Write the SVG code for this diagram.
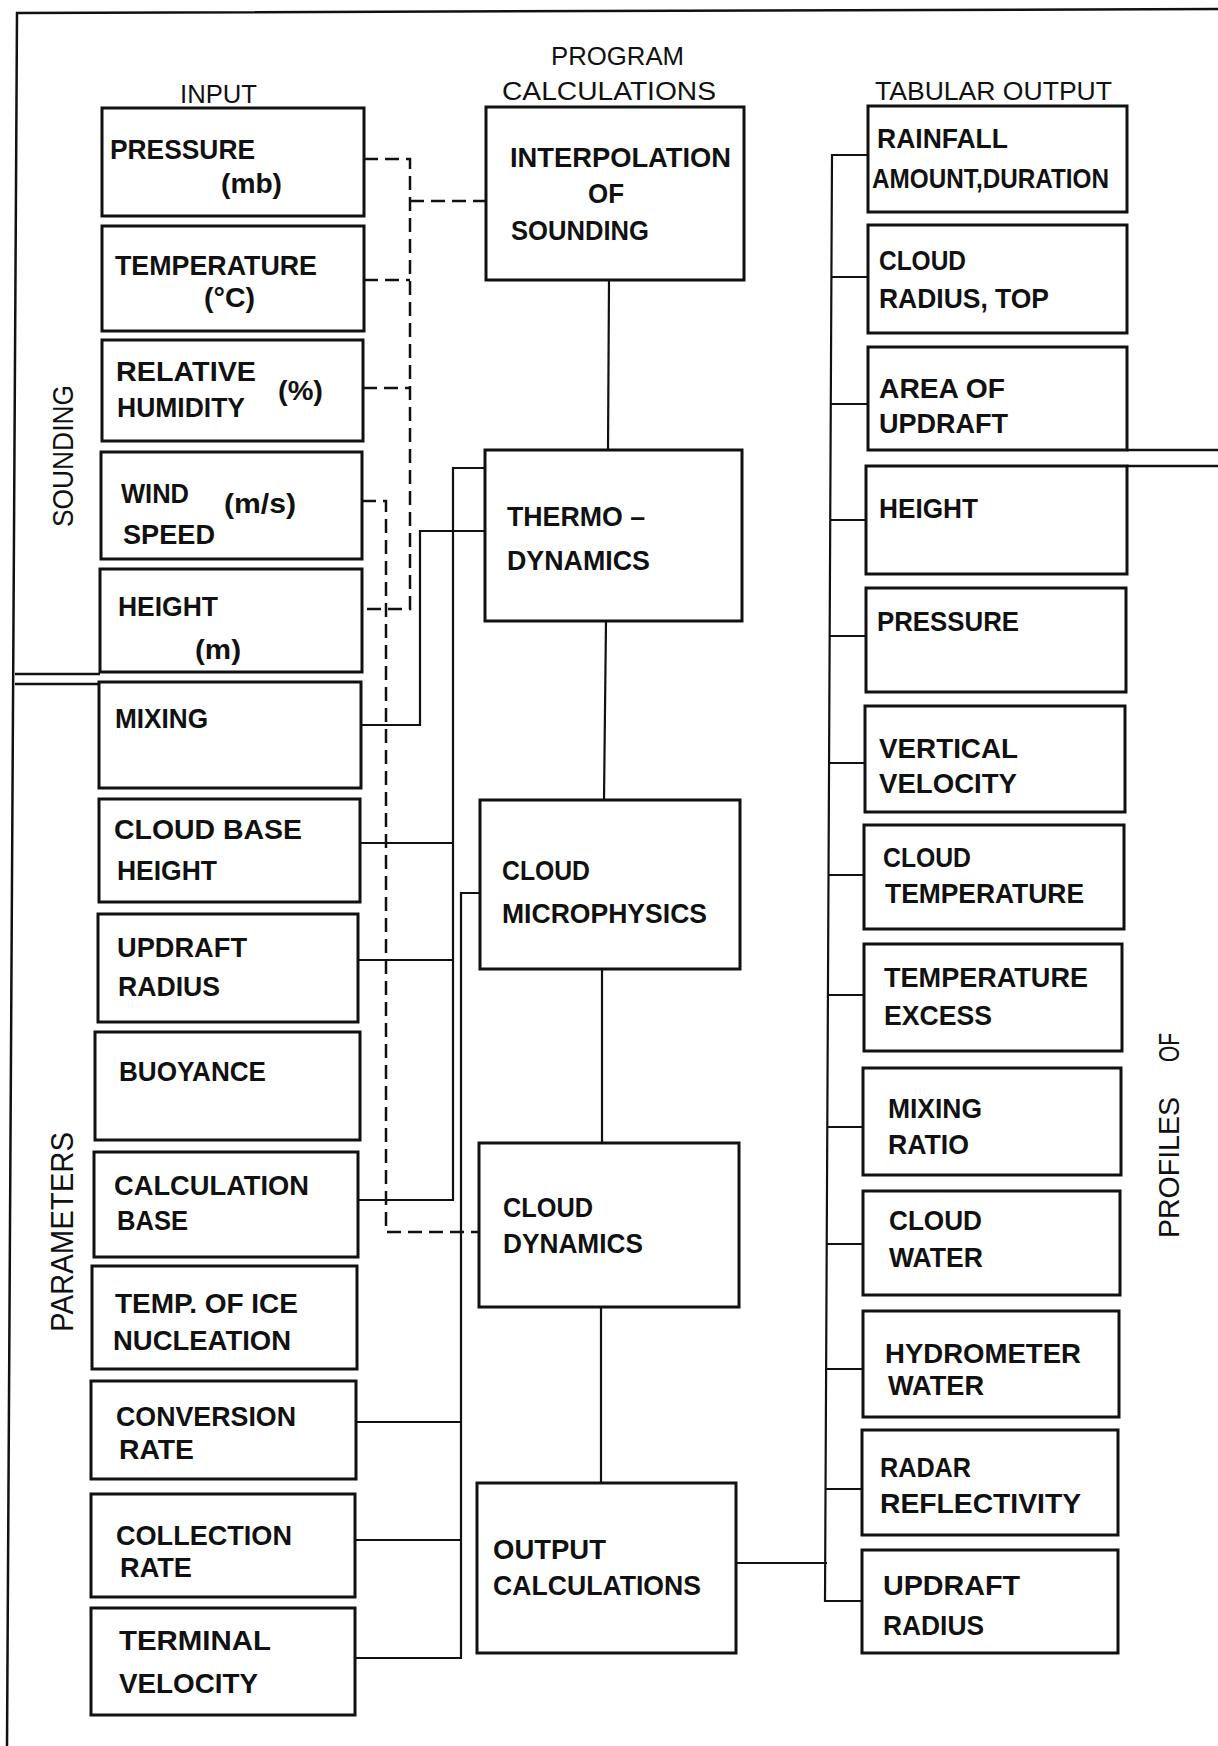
<svg xmlns="http://www.w3.org/2000/svg" width="1218" height="1746" viewBox="0 0 1218 1746">
<style>
.bg { fill: #ffffff; }
.box { fill: #ffffff; stroke: #111111; stroke-width: 3; }
.t { font-family: "Liberation Sans", Arial, sans-serif; font-weight: bold; font-size: 28px; fill: #111111; }
.h { font-family: "Liberation Sans", Arial, sans-serif; font-weight: normal; font-size: 26px; fill: #111111; }
.r { font-family: "Liberation Sans", Arial, sans-serif; font-weight: normal; font-size: 29px; fill: #111111; }
.c { fill: none; stroke: #111111; stroke-width: 2.2; }
.d { fill: none; stroke: #111111; stroke-width: 2.5; stroke-dasharray: 14 7; }
.f { fill: none; stroke: #111111; stroke-width: 2.5; }
</style>
<rect class="bg" x="0" y="0" width="1218" height="1746"/>

<g id="frame">
  <polyline class="f" points="7,1746 17,13 1218,9"/>
  <line class="f" x1="15" y1="674" x2="100" y2="674"/>
  <line class="f" x1="15" y1="684" x2="99" y2="684"/>
  <line class="f" x1="1127" y1="450" x2="1218" y2="450"/>
  <line class="f" x1="1127" y1="466" x2="1218" y2="466"/>
</g>

<g id="labels">
  <text class="h" x="180" y="103" textLength="77" lengthAdjust="spacingAndGlyphs">INPUT</text>
  <text class="h" x="551" y="65" textLength="133" lengthAdjust="spacingAndGlyphs">PROGRAM</text>
  <text class="h" x="502" y="100" textLength="214" lengthAdjust="spacingAndGlyphs">CALCULATIONS</text>
  <text class="h" x="875" y="100" textLength="237" lengthAdjust="spacingAndGlyphs">TABULAR OUTPUT</text>
  <text class="r" transform="translate(73,527) rotate(-90)" x="0" y="0" textLength="142" lengthAdjust="spacingAndGlyphs">SOUNDING</text>
  <text class="r" transform="translate(73,1332) rotate(-90)" x="0" y="0" textLength="200" lengthAdjust="spacingAndGlyphs" style="font-size:32px">PARAMETERS</text>
  <g transform="translate(1179,1238) rotate(-90)">
    <text class="r" x="0" y="0" textLength="141" lengthAdjust="spacingAndGlyphs">PROFILES</text>
    <text class="r" x="176" y="0" textLength="29" lengthAdjust="spacingAndGlyphs">OF</text>
  </g>
</g>

<g id="connectors">
  <!-- dashed sounding links -->
  <polyline class="d" points="364,159 410,159 410,609 362,609"/>
  <line class="d" x1="364" y1="280" x2="410" y2="280"/>
  <line class="d" x1="363" y1="388" x2="410" y2="388"/>
  <line class="d" x1="410" y1="201" x2="486" y2="201"/>
  <polyline class="d" points="362,501 386,501 386,1232 479,1232"/>
  <!-- central chain -->
  <line class="c" x1="609" y1="280" x2="608" y2="450"/>
  <line class="c" x1="606" y1="621" x2="604" y2="800"/>
  <line class="c" x1="602" y1="969" x2="602" y2="1143"/>
  <line class="c" x1="601" y1="1307" x2="601" y2="1483"/>
  <!-- mixing to thermodynamics -->
  <polyline class="c" points="361,725 420,725 420,531 485,531"/>
  <!-- parameters to thermodynamics -->
  <polyline class="c" points="485,468 453,468 453,1200 358,1200"/>
  <line class="c" x1="360" y1="843" x2="453" y2="843"/>
  <line class="c" x1="358" y1="960" x2="453" y2="960"/>
  <!-- parameters to cloud microphysics -->
  <polyline class="c" points="480,893 461,893 461,1658 355,1658"/>
  <line class="c" x1="356" y1="1422" x2="461" y2="1422"/>
  <line class="c" x1="355" y1="1540" x2="461" y2="1540"/>
  <!-- output bus -->
  <line class="c" x1="736" y1="1563" x2="827" y2="1563"/>
  <polyline class="c" points="868,155 832,155 825,1601 862,1601"/>
  <line class="c" x1="831" y1="277" x2="868" y2="277"/>
  <line class="c" x1="831" y1="404" x2="868" y2="404"/>
  <line class="c" x1="830" y1="520" x2="866" y2="520"/>
  <line class="c" x1="830" y1="636" x2="866" y2="636"/>
  <line class="c" x1="829" y1="763" x2="865" y2="763"/>
  <line class="c" x1="828" y1="875" x2="864" y2="875"/>
  <line class="c" x1="828" y1="995" x2="864" y2="995"/>
  <line class="c" x1="827" y1="1127" x2="863" y2="1127"/>
  <line class="c" x1="827" y1="1244" x2="863" y2="1244"/>
  <line class="c" x1="826" y1="1369" x2="863" y2="1369"/>
  <line class="c" x1="826" y1="1489" x2="862" y2="1489"/>
</g>

<!-- input column -->
<g id="in-pressure">
  <rect class="box" x="102" y="108" width="262" height="108"/>
  <text class="t" x="110" y="159" textLength="145" lengthAdjust="spacingAndGlyphs">PRESSURE</text>
  <text class="t" x="221" y="193" textLength="61" lengthAdjust="spacingAndGlyphs">(mb)</text>
</g>
<g id="in-temperature">
  <rect class="box" x="102" y="226" width="262" height="105"/>
  <text class="t" x="115" y="275" textLength="202" lengthAdjust="spacingAndGlyphs">TEMPERATURE</text>
  <text class="t" x="204" y="307" textLength="51" lengthAdjust="spacingAndGlyphs">(°C)</text>
</g>
<g id="in-humidity">
  <rect class="box" x="102" y="340" width="261" height="101"/>
  <text class="t" x="116" y="381" textLength="140" lengthAdjust="spacingAndGlyphs">RELATIVE</text>
  <text class="t" x="117" y="417" textLength="128" lengthAdjust="spacingAndGlyphs">HUMIDITY</text>
  <text class="t" x="278" y="400" textLength="45" lengthAdjust="spacingAndGlyphs">(%)</text>
</g>
<g id="in-wind">
  <rect class="box" x="101" y="452" width="261" height="107"/>
  <text class="t" x="121" y="503" textLength="68" lengthAdjust="spacingAndGlyphs">WIND</text>
  <text class="t" x="123" y="544" textLength="92" lengthAdjust="spacingAndGlyphs">SPEED</text>
  <text class="t" x="224" y="513" textLength="72" lengthAdjust="spacingAndGlyphs">(m/s)</text>
</g>
<g id="in-height">
  <rect class="box" x="100" y="569" width="262" height="103"/>
  <text class="t" x="118" y="616" textLength="100" lengthAdjust="spacingAndGlyphs">HEIGHT</text>
  <text class="t" x="195" y="659" textLength="46" lengthAdjust="spacingAndGlyphs">(m)</text>
</g>
<g id="p-mixing">
  <rect class="box" x="99" y="682" width="262" height="106"/>
  <text class="t" x="115" y="728" textLength="93" lengthAdjust="spacingAndGlyphs">MIXING</text>
</g>
<g id="p-cloudbase">
  <rect class="box" x="99" y="799" width="261" height="103"/>
  <text class="t" x="114" y="839" textLength="188" lengthAdjust="spacingAndGlyphs">CLOUD  BASE</text>
  <text class="t" x="117" y="880" textLength="100" lengthAdjust="spacingAndGlyphs">HEIGHT</text>
</g>
<g id="p-updraft">
  <rect class="box" x="98" y="914" width="260" height="108"/>
  <text class="t" x="117" y="957" textLength="130" lengthAdjust="spacingAndGlyphs">UPDRAFT</text>
  <text class="t" x="118" y="996" textLength="102" lengthAdjust="spacingAndGlyphs">RADIUS</text>
</g>
<g id="p-buoyance">
  <rect class="box" x="95" y="1032" width="265" height="108"/>
  <text class="t" x="119" y="1081" textLength="147" lengthAdjust="spacingAndGlyphs">BUOYANCE</text>
</g>
<g id="p-calcbase">
  <rect class="box" x="94" y="1152" width="264" height="105"/>
  <text class="t" x="114" y="1195" textLength="195" lengthAdjust="spacingAndGlyphs">CALCULATION</text>
  <text class="t" x="117" y="1230" textLength="71" lengthAdjust="spacingAndGlyphs">BASE</text>
</g>
<g id="p-icetemp">
  <rect class="box" x="92" y="1266" width="265" height="103"/>
  <text class="t" x="115" y="1313" textLength="183" lengthAdjust="spacingAndGlyphs">TEMP. OF  ICE</text>
  <text class="t" x="113" y="1350" textLength="178" lengthAdjust="spacingAndGlyphs">NUCLEATION</text>
</g>
<g id="p-conversion">
  <rect class="box" x="91" y="1381" width="265" height="98"/>
  <text class="t" x="116" y="1426" textLength="180" lengthAdjust="spacingAndGlyphs">CONVERSION</text>
  <text class="t" x="119" y="1459" textLength="75" lengthAdjust="spacingAndGlyphs">RATE</text>
</g>
<g id="p-collection">
  <rect class="box" x="91" y="1494" width="264" height="103"/>
  <text class="t" x="116" y="1545" textLength="176" lengthAdjust="spacingAndGlyphs">COLLECTION</text>
  <text class="t" x="120" y="1577" textLength="72" lengthAdjust="spacingAndGlyphs">RATE</text>
</g>
<g id="p-terminal">
  <rect class="box" x="91" y="1608" width="264" height="107"/>
  <text class="t" x="119" y="1650" textLength="152" lengthAdjust="spacingAndGlyphs">TERMINAL</text>
  <text class="t" x="119" y="1693" textLength="139" lengthAdjust="spacingAndGlyphs">VELOCITY</text>
</g>

<!-- program calculations -->
<g id="c-interp">
  <rect class="box" x="486" y="107" width="258" height="173"/>
  <text class="t" x="510" y="167" textLength="221" lengthAdjust="spacingAndGlyphs">INTERPOLATION</text>
  <text class="t" x="588" y="203" textLength="36" lengthAdjust="spacingAndGlyphs">OF</text>
  <text class="t" x="511" y="240" textLength="138" lengthAdjust="spacingAndGlyphs">SOUNDING</text>
</g>
<g id="c-thermo">
  <rect class="box" x="485" y="450" width="257" height="171"/>
  <text class="t" x="507" y="526" textLength="138" lengthAdjust="spacingAndGlyphs">THERMO –</text>
  <text class="t" x="507" y="570" textLength="143" lengthAdjust="spacingAndGlyphs">DYNAMICS</text>
</g>
<g id="c-micro">
  <rect class="box" x="480" y="800" width="260" height="169"/>
  <text class="t" x="502" y="880" textLength="88" lengthAdjust="spacingAndGlyphs">CLOUD</text>
  <text class="t" x="502" y="923" textLength="205" lengthAdjust="spacingAndGlyphs">MICROPHYSICS</text>
</g>
<g id="c-dynamics">
  <rect class="box" x="479" y="1143" width="260" height="164"/>
  <text class="t" x="503" y="1217" textLength="90" lengthAdjust="spacingAndGlyphs">CLOUD</text>
  <text class="t" x="503" y="1253" textLength="140" lengthAdjust="spacingAndGlyphs">DYNAMICS</text>
</g>
<g id="c-output">
  <rect class="box" x="477" y="1483" width="259" height="170"/>
  <text class="t" x="493" y="1559" textLength="113" lengthAdjust="spacingAndGlyphs">OUTPUT</text>
  <text class="t" x="493" y="1595" textLength="208" lengthAdjust="spacingAndGlyphs">CALCULATIONS</text>
</g>

<!-- tabular output -->
<g id="o-rainfall">
  <rect class="box" x="868" y="106" width="259" height="106"/>
  <text class="t" x="877" y="148" textLength="131" lengthAdjust="spacingAndGlyphs">RAINFALL</text>
  <text class="t" x="872" y="188" textLength="237" lengthAdjust="spacingAndGlyphs">AMOUNT,DURATION</text>
</g>
<g id="o-cloudradius">
  <rect class="box" x="868" y="225" width="259" height="108"/>
  <text class="t" x="879" y="270" textLength="87" lengthAdjust="spacingAndGlyphs">CLOUD</text>
  <text class="t" x="879" y="308" textLength="170" lengthAdjust="spacingAndGlyphs">RADIUS, TOP</text>
</g>
<g id="o-area">
  <rect class="box" x="868" y="347" width="259" height="103"/>
  <text class="t" x="879" y="398" textLength="126" lengthAdjust="spacingAndGlyphs">AREA OF</text>
  <text class="t" x="879" y="433" textLength="129" lengthAdjust="spacingAndGlyphs">UPDRAFT</text>
</g>
<g id="o-height">
  <rect class="box" x="866" y="466" width="261" height="108"/>
  <text class="t" x="879" y="518" textLength="99" lengthAdjust="spacingAndGlyphs">HEIGHT</text>
</g>
<g id="o-pressure">
  <rect class="box" x="866" y="588" width="260" height="104"/>
  <text class="t" x="877" y="631" textLength="142" lengthAdjust="spacingAndGlyphs">PRESSURE</text>
</g>
<g id="o-vertvel">
  <rect class="box" x="865" y="706" width="260" height="106"/>
  <text class="t" x="879" y="758" textLength="139" lengthAdjust="spacingAndGlyphs">VERTICAL</text>
  <text class="t" x="879" y="793" textLength="138" lengthAdjust="spacingAndGlyphs">VELOCITY</text>
</g>
<g id="o-cloudtemp">
  <rect class="box" x="864" y="825" width="260" height="104"/>
  <text class="t" x="883" y="867" textLength="88" lengthAdjust="spacingAndGlyphs">CLOUD</text>
  <text class="t" x="885" y="903" textLength="199" lengthAdjust="spacingAndGlyphs">TEMPERATURE</text>
</g>
<g id="o-tempexcess">
  <rect class="box" x="864" y="944" width="258" height="107"/>
  <text class="t" x="884" y="987" textLength="204" lengthAdjust="spacingAndGlyphs">TEMPERATURE</text>
  <text class="t" x="884" y="1025" textLength="108" lengthAdjust="spacingAndGlyphs">EXCESS</text>
</g>
<g id="o-mixratio">
  <rect class="box" x="863" y="1068" width="258" height="107"/>
  <text class="t" x="888" y="1118" textLength="94" lengthAdjust="spacingAndGlyphs">MIXING</text>
  <text class="t" x="888" y="1154" textLength="81" lengthAdjust="spacingAndGlyphs">RATIO</text>
</g>
<g id="o-cloudwater">
  <rect class="box" x="863" y="1191" width="257" height="104"/>
  <text class="t" x="889" y="1230" textLength="93" lengthAdjust="spacingAndGlyphs">CLOUD</text>
  <text class="t" x="889" y="1267" textLength="94" lengthAdjust="spacingAndGlyphs">WATER</text>
</g>
<g id="o-hydrometer">
  <rect class="box" x="863" y="1311" width="256" height="106"/>
  <text class="t" x="885" y="1363" textLength="196" lengthAdjust="spacingAndGlyphs">HYDROMETER</text>
  <text class="t" x="888" y="1395" textLength="96" lengthAdjust="spacingAndGlyphs">WATER</text>
</g>
<g id="o-radar">
  <rect class="box" x="862" y="1430" width="256" height="105"/>
  <text class="t" x="880" y="1477" textLength="91" lengthAdjust="spacingAndGlyphs">RADAR</text>
  <text class="t" x="880" y="1513" textLength="201" lengthAdjust="spacingAndGlyphs">REFLECTIVITY</text>
</g>
<g id="o-updraftradius">
  <rect class="box" x="862" y="1550" width="256" height="103"/>
  <text class="t" x="883" y="1595" textLength="137" lengthAdjust="spacingAndGlyphs">UPDRAFT</text>
  <text class="t" x="883" y="1635" textLength="101" lengthAdjust="spacingAndGlyphs">RADIUS</text>
</g>
</svg>
